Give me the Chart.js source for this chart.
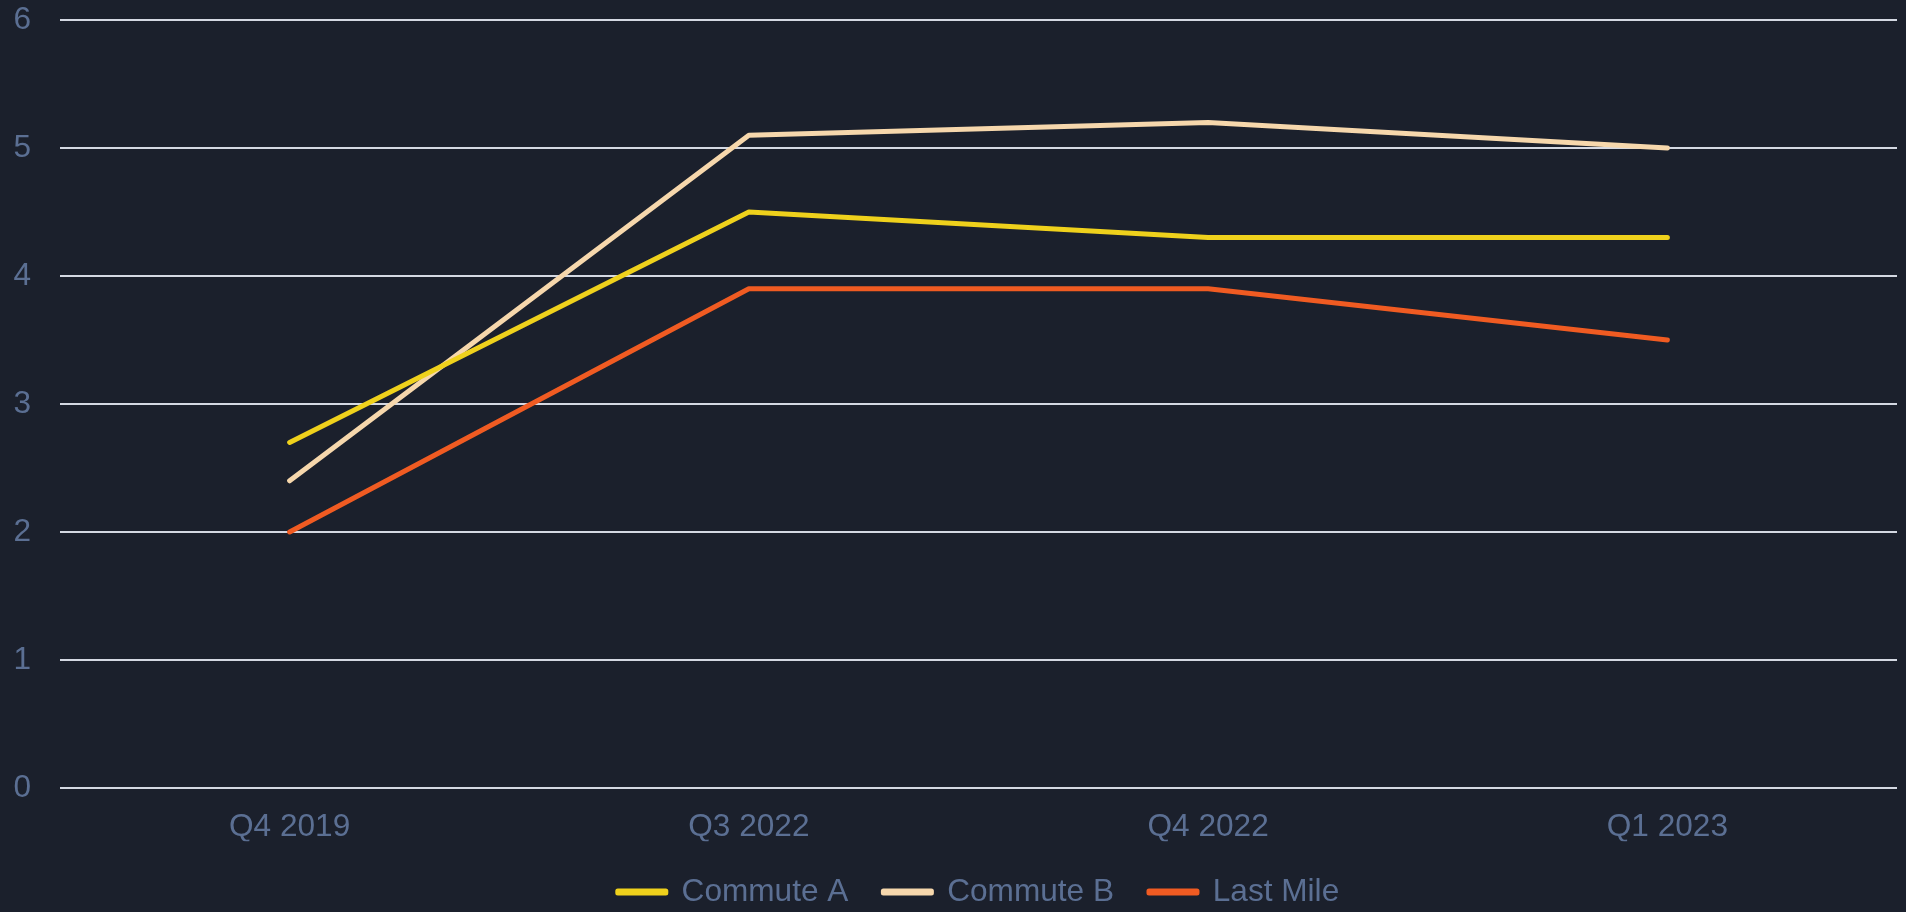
<!DOCTYPE html>
<html>
<head>
<meta charset="utf-8">
<script src="https://cdn.jsdelivr.net/npm/chart.js@4/dist/chart.umd.min.js"></script>
<style>
  html, body { margin: 0; padding: 0; background: #1b202c; }
  #wrap { width: 1906px; height: 912px; position: relative; }
</style>
</head>
<body>
<div id="wrap"><canvas id="chart"></canvas></div>
<script>
const quarters = ['Q4 2019', 'Q3 2022', 'Q4 2022', 'Q1 2023'];
const commuteA = [2.7, 4.5, 4.3, 4.3];
const commuteB = [2.4, 5.1, 5.2, 5.0];
const lastMile = [2.0, 3.9, 3.9, 3.5];
const yTicks = [0, 1, 2, 3, 4, 5, 6];

const textColor = '#5b6f93';
const font = { family: "'Liberation Sans', Arial, sans-serif", size: 31.6 };

const line = (label, data, color) => ({
  label,
  data,
  borderColor: color,
  backgroundColor: color,
  borderWidth: 5,
  borderCapStyle: 'round',
  borderJoinStyle: 'round',
  pointRadius: 0,
  pointHoverRadius: 0,
  tension: 0,
});

const ctx = document.getElementById('chart').getContext('2d');
new Chart(ctx, {
  type: 'line',
  data: {
    labels: quarters,
    datasets: [
      line('Commute A', commuteA, '#efd11c'),
      line('Commute B', commuteB, '#f6d7ac'),
      line('Last Mile', lastMile, '#f05b22'),
    ],
  },
  options: {
    responsive: true,
    maintainAspectRatio: false,
    animation: false,
    layout: { padding: { top: 20, right: 9, left: 0, bottom: -5.8 } },
    scales: {
      x: {
        offset: true,
        grid: { display: false, drawTicks: false },
        border: { display: false },
        ticks: { color: textColor, font, padding: 20 },
        afterFit: (scale) => {
          scale.height = 53.2;
          scale.paddingLeft = 0;
          scale.paddingRight = 0;
        },
      },
      y: {
        min: 0,
        max: 6,
        afterBuildTicks: (scale) => { scale.ticks = yTicks.map((v) => ({ value: v })); },
        grid: { color: '#d4d8e2', lineWidth: 2, drawTicks: false },
        border: { display: false },
        ticks: { color: textColor, font, padding: 29 },
        afterFit: (scale) => {
          scale.width = 60;
          scale.paddingTop = 0;
          scale.paddingBottom = 0;
        },
      },
    },
    plugins: {
      tooltip: { enabled: false },
      legend: {
        position: 'bottom',
        fullSize: false,
        labels: {
          color: textColor,
          font,
          boxWidth: 48,
          boxHeight: 2,
          padding: 35,
        },
      },
    },
  },
});
</script>
</body>
</html>
